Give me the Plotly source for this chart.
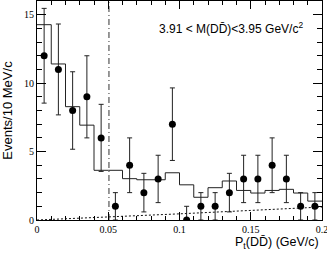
import plotly.graph_objects as go

# Data points (bin centres, counts, errors)
pt_centers = [0.005, 0.015, 0.025, 0.035, 0.045, 0.055, 0.065, 0.075, 0.085, 0.095,
              0.105, 0.115, 0.125, 0.135, 0.145, 0.155, 0.165, 0.175, 0.185, 0.195]
counts = [12, 11, 8, 9, 6, 1, 4, 2, 3, 7, 0, 1, 1, 2, 3, 3, 4, 3, 1, 1]
err_up = [3.46, 3.32, 2.83, 3.0, 2.45, 1.0, 2.0, 1.41, 1.73, 2.65,
          1.0, 1.0, 1.0, 1.41, 1.73, 1.73, 2.0, 1.73, 1.0, 1.0]
err_down = [3.46, 3.32, 2.83, 3.0, 2.45, 1.0, 2.0, 1.41, 1.73, 2.65,
            0.0, 1.0, 1.0, 1.41, 1.73, 1.73, 2.0, 1.73, 1.0, 1.0]

# MC histogram (bin edges and contents)
hist_edges = [0.0, 0.01, 0.02, 0.03, 0.04, 0.05, 0.06, 0.07, 0.08, 0.09, 0.10,
              0.11, 0.12, 0.13, 0.14, 0.15, 0.16, 0.17, 0.18, 0.19, 0.20]
hist_vals = [14.27, 11.4, 8.28, 6.93, 3.63, 3.63, 3.02, 2.94, 2.94, 3.45,
             2.57, 1.66, 2.36, 2.85, 2.16, 1.97, 2.16, 2.24, 1.97, 1.38]

# Background (dotted curve)
bg_x = [0.0, 0.02, 0.04, 0.06, 0.08, 0.10, 0.12, 0.14, 0.16, 0.18, 0.20]
bg_y = [0.0, 0.08, 0.18, 0.28, 0.36, 0.45, 0.55, 0.65, 0.75, 0.85, 0.95]

cut_x = 0.0505
y_range = [0, 16]

fig = go.Figure()

fig.add_trace(go.Scatter(
    x=hist_edges, y=hist_vals + [hist_vals[-1]], mode="lines",
    line=dict(color="#222222", width=1, shape="hv"), showlegend=False))

fig.add_trace(go.Scatter(
    x=bg_x, y=bg_y, mode="lines",
    line=dict(color="#111111", width=1, dash="2px,2px"), showlegend=False))

fig.add_trace(go.Scatter(
    x=[cut_x, cut_x], y=y_range, mode="lines",
    line=dict(color="#333333", width=1, dash="6px,3px,1px,3px"), showlegend=False))

fig.add_trace(go.Scatter(
    x=pt_centers, y=counts, mode="markers",
    marker=dict(color="black", size=7),
    error_y=dict(type="data", symmetric=False, array=err_up, arrayminus=err_down,
                 color="#222222", thickness=1, width=2.5),
    showlegend=False))

fig.add_annotation(
    x=0.0845, y=14, xref="x", yref="y", xanchor="left", yanchor="middle",
    text="3.91 &lt; M(DD\u0304)&lt;3.95 GeV/c<sup>2</sup>", showarrow=False,
    font=dict(family="Liberation Sans, Arial", size=12, color="black"))

fig.add_annotation(
    x=0.995, y=-0.06, xref="paper", yref="paper", xanchor="right", yanchor="top",
    text="P<sub>t</sub>(DD\u0304) (GeV/c)", showarrow=False,
    font=dict(family="Liberation Sans, Arial", size=12.5, color="black"))

fig.update_xaxes(
    range=[0, 0.2], showline=True, linecolor="black", linewidth=1, mirror="allticks",
    ticks="inside", ticklen=8, tickcolor="black",
    tickvals=[0, 0.05, 0.1, 0.15, 0.2], ticktext=["0", "0.05", "0.1", "0.15", "0.2"],
    ticklabeloverflow="allow",
    minor=dict(ticks="inside", ticklen=4, dtick=0.01, tickcolor="black"),
    showgrid=False, zeroline=False,
    tickfont=dict(family="Liberation Serif, Times New Roman", size=10, color="black"))

fig.update_yaxes(
    range=y_range, showline=True, linecolor="black", linewidth=1, mirror="allticks",
    ticks="inside", ticklen=9, tickcolor="black", tickvals=[0, 5, 10, 15],
    minor=dict(ticks="inside", ticklen=5, dtick=1, tickcolor="black"),
    showgrid=False, zeroline=False,
    title=dict(text="Events/10 MeV/c", standoff=14,
               font=dict(family="Liberation Sans, Arial", size=13, color="black")),
    tickfont=dict(family="Liberation Serif, Times New Roman", size=10, color="black"))

fig.update_layout(
    width=327, height=259, margin=dict(l=37, r=5, t=1, b=39, autoexpand=False),
    plot_bgcolor="white", paper_bgcolor="white")

fig.write_html("out.html", config={"displayModeBar": False},
               post_script="document.body.style.margin='0';document.body.style.overflow='hidden';")
